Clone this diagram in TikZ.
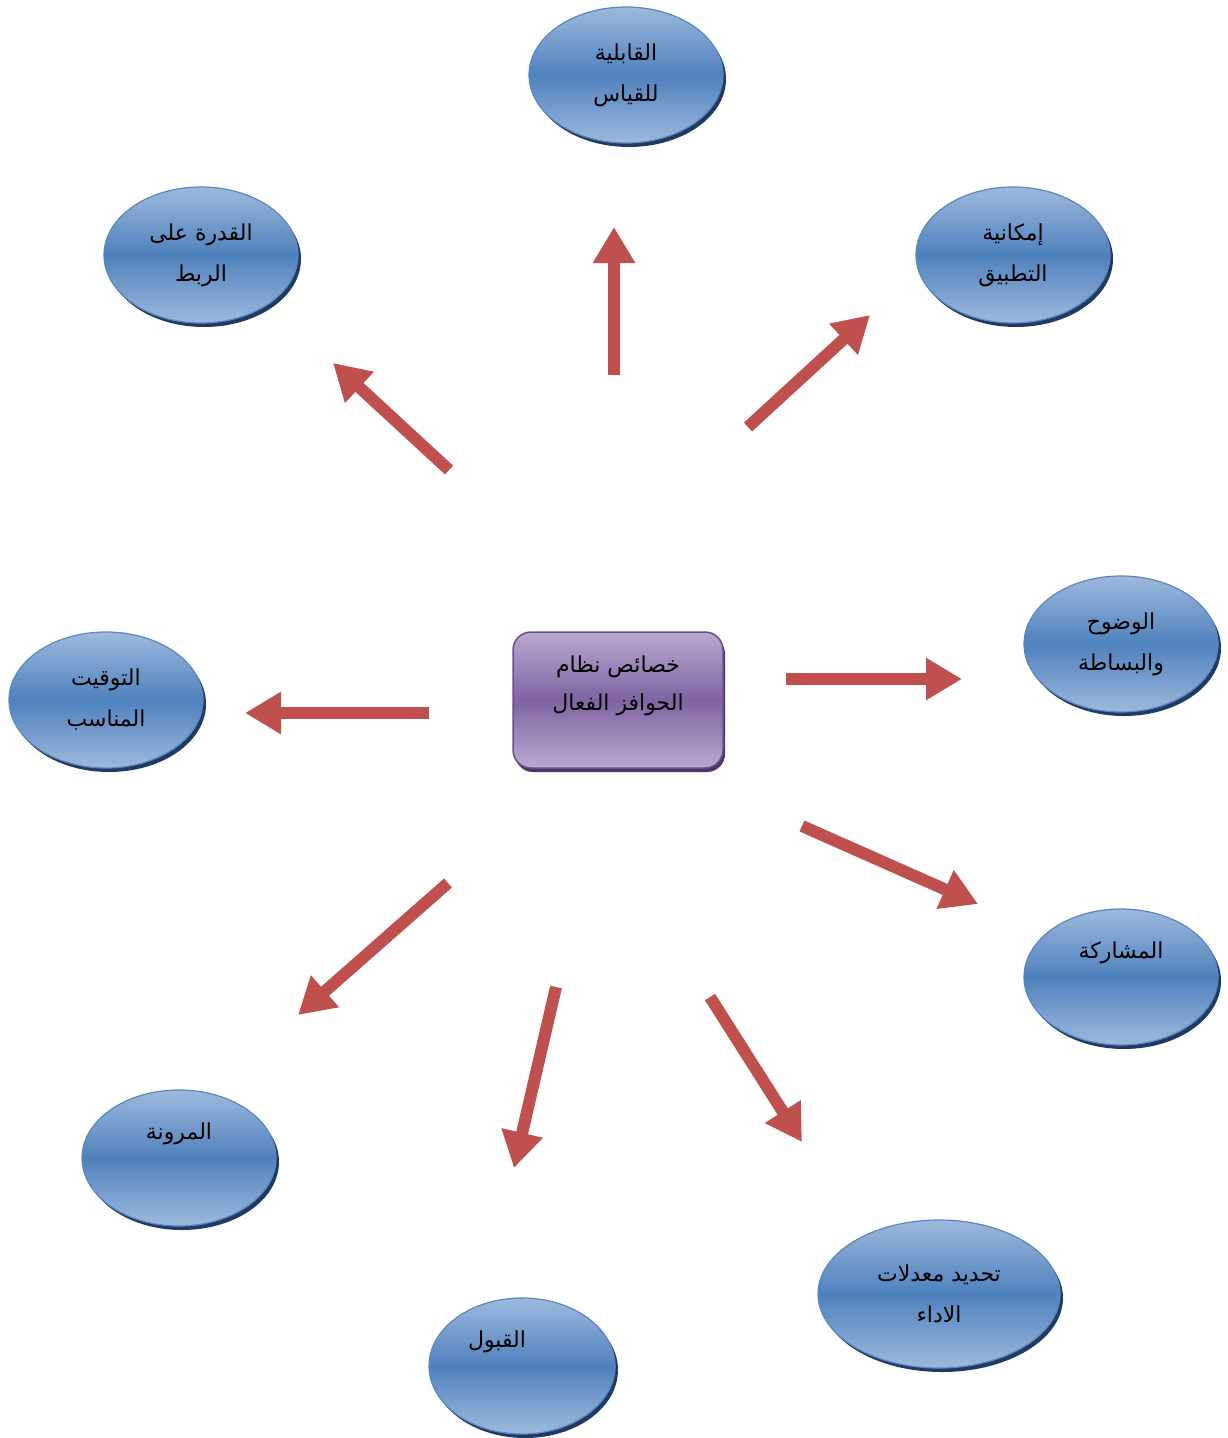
\documentclass[tikz,border=0pt]{standalone}
\usepackage{fontspec}
\TeXXeTstate=1
\newfontfamily\arabicfont[Script=Arabic]{DejaVu Sans}
\usetikzlibrary{shapes.geometric,arrows.meta,shadows}
\definecolor{arrowred}{HTML}{C0504D}
\definecolor{bubtop}{HTML}{9DB9DC}
\definecolor{bubmid}{HTML}{4F81BD}
\definecolor{bubborder}{HTML}{5B86C0}
\definecolor{bubshadow}{HTML}{1F3B64}
\definecolor{boxtop}{HTML}{B9A8CF}
\definecolor{boxmid}{HTML}{8064A2}
\definecolor{boxborder}{HTML}{6A4F8E}
\definecolor{boxshadow}{HTML}{4A3566}
\newcommand\artext[1]{\beginR #1\endR}
\tikzset{
  bub/.style={ellipse, minimum width=194pt, minimum height=136pt, inner sep=0pt,
    draw=bubborder, line width=1.2pt, top color=bubtop, bottom color=bubtop,
    middle color=bubmid, align=center,
    font=\arabicfont\fontsize{22}{41}\selectfont,
    general shadow={fill=bubshadow, shadow xshift=3pt, shadow yshift=-4pt}},
  centerbox/.style={rectangle, rounded corners=18pt, minimum width=210pt,
    minimum height=136pt, inner sep=0pt, draw=boxborder, line width=1.5pt,
    top color=boxtop, bottom color=boxtop, middle color=boxmid, align=center,
    font=\arabicfont\fontsize{22}{38}\selectfont,
    general shadow={fill=boxshadow, shadow xshift=2pt, shadow yshift=-4pt}},
  bigarrow/.style={draw=arrowred, line width=12pt,
    -{Triangle[width=40pt,length=36pt]}, arrowred}
}
\begin{document}
\begin{tikzpicture}[x=1pt,y=-1pt]
\useasboundingbox (0,0) rectangle (1227,1438);

\node[centerbox] (c) at (618,700) {\artext{خصائص نظام}\\\artext{الحوافز  الفعال}\hspace*{18pt}\\[-16pt]\strut};

\node[bub] (n1) at (626,75) {\artext{القابلية}\\\artext{للقياس}};
\node[bub] (n2) at (201,255) {\artext{القدرة على}\\\artext{الربط}};
\node[bub] (n3) at (1013,255) {\artext{إمكانية}\\\artext{التطبيق}};
\node[bub] (n4) at (1121,644) {\artext{الوضوح}\\\artext{والبساطة}};
\node[bub] (n5) at (106,700) {\artext{التوقيت}\\\artext{المناسب}};
\node[bub] (n6) at (1121,977) {\artext{المشاركة}\\\strut};
\node[bub] (n7) at (179,1158) {\artext{المرونة}\\\strut};
\node[bub, minimum width=186pt] (n8) at (522,1366) {\artext{القبول}\hspace*{50pt}\\\strut};
\node[bub, minimum width=242pt, minimum height=148pt] (n9) at (939,1294) {\artext{تحديد معدلات}\\\artext{الاداء}};

\coordinate (a1s) at (614,375);  \coordinate (a1e) at (614,227);
\coordinate (a2s) at (748,427);  \coordinate (a2e) at (870,315);
\coordinate (a3s) at (449,470);  \coordinate (a3e) at (333,363);
\coordinate (a4s) at (786,679);  \coordinate (a4e) at (962,679);
\coordinate (a5s) at (429,713);  \coordinate (a5e) at (245,713);
\coordinate (a6s) at (802,826);  \coordinate (a6e) at (978,904);
\coordinate (a7s) at (448,883);  \coordinate (a7e) at (298,1015);
\coordinate (a8s) at (556,987);  \coordinate (a8e) at (514,1168);
\coordinate (a9s) at (710,997);  \coordinate (a9e) at (802,1142);

\foreach \i in {1,...,9} { \draw[bigarrow] (a\i s) -- (a\i e); }
\end{tikzpicture}
\end{document}
